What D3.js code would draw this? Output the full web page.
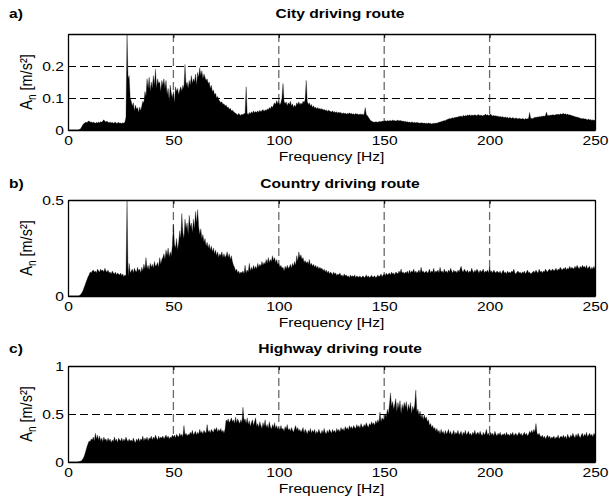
<!DOCTYPE html>
<html><head><meta charset="utf-8">
<script src="https://cdn.jsdelivr.net/npm/d3@7"></script>
<style>
body{margin:0;background:#fff}
svg{display:block}
text{font-family:"Liberation Sans",Arial,Helvetica,sans-serif;fill:#000}
</style>
</head><body>
<svg id="chart" width="609" height="503"></svg>
<script>
// frequency bins (Hz), 0.5 Hz apart
const freqHz = d3.range(0, 250.5, 0.5);

// City driving route, amplitude [m/s²], 0..250 Hz (10 values = 5 Hz per row)
const cityValues = [
0,0,0,0,0,0,0,0,0,0,
0,0.002,0.004,0.01,0.016,0.02,0.022,0.025,0.023,0.027,
0.028,0.024,0.026,0.022,0.025,0.023,0.021,0.024,0.022,0.025,
0.023,0.026,0.024,0.028,0.032,0.027,0.025,0.028,0.024,0.023,
0.025,0.022,0.024,0.021,0.023,0.025,0.02,0.022,0.024,0.021,
0.022,0.02,0.023,0.021,0.025,0.04,0.3,0.16,0.17,0.1,
0.09,0.075,0.085,0.06,0.078,0.065,0.07,0.055,0.072,0.06,
0.075,0.09,0.085,0.12,0.105,0.16,0.13,0.165,0.12,0.15,
0.13,0.17,0.14,0.19,0.13,0.16,0.145,0.15,0.12,0.155,
0.14,0.16,0.13,0.155,0.11,0.13,0.09,0.14,0.115,0.1,
0.12,0.085,0.135,0.12,0.13,0.11,0.125,0.135,0.12,0.14,
0.13,0.205,0.14,0.15,0.13,0.155,0.14,0.17,0.145,0.16,
0.15,0.175,0.14,0.18,0.165,0.195,0.17,0.185,0.16,0.175,
0.165,0.155,0.16,0.145,0.15,0.13,0.14,0.12,0.125,0.11,
0.115,0.1,0.105,0.095,0.09,0.085,0.088,0.08,0.082,0.075,
0.078,0.07,0.072,0.065,0.068,0.06,0.062,0.058,0.055,0.052,
0.05,0.046,0.052,0.048,0.045,0.05,0.047,0.052,0.05,0.135,
0.052,0.048,0.055,0.05,0.057,0.052,0.06,0.054,0.058,0.055,
0.06,0.055,0.062,0.057,0.06,0.064,0.058,0.063,0.06,0.066,
0.063,0.07,0.066,0.074,0.07,0.078,0.085,0.08,0.092,0.082,
0.09,0.078,0.085,0.1,0.145,0.09,0.082,0.088,0.076,0.085,
0.08,0.09,0.075,0.082,0.07,0.078,0.072,0.085,0.08,0.088,
0.078,0.084,0.08,0.09,0.085,0.095,0.155,0.09,0.08,0.085,
0.075,0.08,0.07,0.076,0.068,0.072,0.066,0.07,0.065,0.068,
0.064,0.067,0.062,0.065,0.06,0.063,0.058,0.062,0.06,0.058,
0.056,0.06,0.055,0.058,0.054,0.057,0.052,0.056,0.053,0.055,
0.05,0.054,0.051,0.053,0.049,0.052,0.05,0.054,0.05,0.052,
0.049,0.051,0.048,0.052,0.049,0.05,0.047,0.051,0.048,0.05,
0.047,0.05,0.07,0.048,0.045,0.04,0.035,0.03,0.028,0.026,
0.025,0.024,0.026,0.025,0.024,0.026,0.027,0.025,0.028,0.027,
0.028,0.029,0.027,0.03,0.028,0.029,0.03,0.028,0.031,0.029,
0.03,0.028,0.029,0.031,0.028,0.03,0.029,0.027,0.028,0.026,
0.027,0.025,0.026,0.024,0.025,0.023,0.025,0.024,0.023,0.024,
0.022,0.024,0.023,0.022,0.021,0.023,0.022,0.021,0.022,0.02,
0.021,0.02,0.022,0.02,0.021,0.019,0.02,0.021,0.02,0.022,
0.021,0.023,0.024,0.025,0.026,0.027,0.028,0.03,0.029,0.032,
0.033,0.034,0.036,0.035,0.037,0.038,0.037,0.04,0.039,0.041,
0.04,0.043,0.042,0.044,0.041,0.046,0.043,0.045,0.044,0.047,
0.045,0.048,0.044,0.047,0.046,0.045,0.048,0.046,0.044,0.049,
0.046,0.045,0.047,0.044,0.046,0.045,0.05,0.046,0.048,0.045,
0.047,0.05,0.045,0.044,0.046,0.043,0.045,0.042,0.044,0.041,
0.043,0.04,0.042,0.04,0.039,0.041,0.038,0.04,0.037,0.039,
0.038,0.036,0.039,0.037,0.035,0.038,0.036,0.034,0.037,0.035,
0.034,0.036,0.035,0.033,0.036,0.034,0.035,0.037,0.055,0.036,
0.037,0.035,0.038,0.04,0.039,0.041,0.04,0.042,0.041,0.043,
0.042,0.044,0.043,0.045,0.056,0.044,0.046,0.045,0.047,0.046,
0.048,0.047,0.046,0.049,0.048,0.05,0.047,0.051,0.049,0.05,
0.052,0.049,0.051,0.048,0.05,0.047,0.048,0.046,0.045,0.044,
0.043,0.042,0.04,0.041,0.039,0.038,0.037,0.036,0.035,0.036,
0.034,0.035,0.033,0.032,0.034,0.031,0.033,0.03,0.032,0.03,
0.031];

// Country driving route
const countryValues = [
0,0,0,0,0,0,0,0,0,0,
0,0.003,0.008,0.015,0.025,0.04,0.055,0.07,0.085,0.1,
0.11,0.125,0.12,0.13,0.135,0.125,0.13,0.12,0.14,0.13,
0.125,0.14,0.13,0.135,0.125,0.145,0.13,0.125,0.135,0.12,
0.125,0.115,0.13,0.12,0.115,0.125,0.11,0.12,0.115,0.11,
0.12,0.105,0.115,0.1,0.11,0.105,0.5,0.1,0.17,0.12,
0.13,0.14,0.12,0.145,0.13,0.125,0.15,0.13,0.14,0.12,
0.15,0.13,0.165,0.14,0.2,0.14,0.16,0.135,0.17,0.15,
0.165,0.145,0.18,0.155,0.16,0.175,0.15,0.2,0.165,0.19,
0.2,0.22,0.19,0.24,0.21,0.25,0.2,0.23,0.21,0.26,
0.37,0.27,0.25,0.3,0.24,0.28,0.34,0.3,0.43,0.33,
0.3,0.4,0.35,0.38,0.32,0.42,0.36,0.38,0.33,0.4,
0.35,0.44,0.38,0.45,0.36,0.32,0.35,0.3,0.32,0.28,
0.3,0.26,0.28,0.25,0.27,0.24,0.26,0.23,0.25,0.22,
0.24,0.21,0.23,0.2,0.22,0.21,0.23,0.2,0.22,0.2,
0.21,0.23,0.2,0.22,0.19,0.21,0.18,0.16,0.15,0.13,
0.14,0.12,0.13,0.115,0.125,0.12,0.13,0.115,0.16,0.12,
0.135,0.125,0.17,0.13,0.15,0.135,0.16,0.14,0.155,0.14,
0.17,0.15,0.165,0.155,0.18,0.16,0.175,0.165,0.19,0.17,
0.2,0.175,0.19,0.18,0.21,0.185,0.2,0.175,0.19,0.165,
0.17,0.15,0.16,0.145,0.15,0.13,0.155,0.14,0.16,0.145,
0.15,0.165,0.145,0.17,0.155,0.18,0.16,0.21,0.18,0.23,
0.2,0.215,0.19,0.2,0.175,0.185,0.17,0.18,0.165,0.19,
0.16,0.17,0.155,0.165,0.15,0.16,0.145,0.155,0.14,0.15,
0.14,0.145,0.13,0.14,0.125,0.135,0.12,0.13,0.115,0.125,
0.12,0.11,0.125,0.115,0.12,0.105,0.115,0.11,0.12,0.105,
0.11,0.1,0.115,0.105,0.11,0.1,0.105,0.095,0.11,0.1,
0.105,0.1,0.11,0.095,0.105,0.1,0.098,0.105,0.095,0.1,
0.105,0.095,0.1,0.11,0.098,0.105,0.095,0.1,0.108,0.098,
0.1,0.105,0.095,0.1,0.11,0.1,0.105,0.115,0.1,0.11,
0.115,0.105,0.12,0.11,0.115,0.12,0.11,0.125,0.115,0.12,
0.11,0.125,0.12,0.115,0.13,0.12,0.14,0.12,0.125,0.115,
0.125,0.12,0.13,0.115,0.135,0.12,0.13,0.125,0.14,0.12,
0.13,0.12,0.125,0.135,0.12,0.15,0.125,0.13,0.12,0.125,
0.13,0.12,0.125,0.14,0.12,0.13,0.125,0.145,0.12,0.13,
0.125,0.135,0.12,0.15,0.125,0.13,0.12,0.14,0.125,0.13,
0.12,0.135,0.125,0.145,0.13,0.12,0.135,0.125,0.13,0.12,
0.135,0.125,0.14,0.155,0.13,0.125,0.14,0.13,0.125,0.135,
0.12,0.13,0.125,0.145,0.13,0.12,0.135,0.125,0.14,0.13,
0.12,0.135,0.125,0.13,0.14,0.12,0.13,0.125,0.135,0.12,
0.15,0.125,0.13,0.12,0.135,0.125,0.12,0.13,0.125,0.12,
0.13,0.115,0.125,0.135,0.12,0.125,0.115,0.13,0.12,0.125,
0.12,0.13,0.125,0.14,0.12,0.115,0.125,0.13,0.12,0.125,
0.115,0.125,0.12,0.13,0.115,0.125,0.135,0.12,0.125,0.115,
0.12,0.125,0.13,0.12,0.135,0.125,0.12,0.14,0.125,0.13,
0.12,0.13,0.125,0.14,0.13,0.125,0.135,0.14,0.13,0.135,
0.14,0.13,0.135,0.145,0.13,0.14,0.135,0.15,0.14,0.135,
0.145,0.14,0.15,0.135,0.145,0.14,0.155,0.14,0.15,0.145,
0.14,0.155,0.145,0.16,0.15,0.14,0.155,0.145,0.16,0.15,
0.155,0.145,0.16,0.14,0.15,0.155,0.135,0.15,0.14,0.155,
0.14];

// Highway driving route
const highwayValues = [
0,0,0,0,0,0,0,0,0,0,
0.002,0.004,0.008,0.015,0.03,0.05,0.08,0.12,0.16,0.19,
0.22,0.21,0.24,0.23,0.26,0.22,0.3,0.24,0.28,0.23,
0.27,0.22,0.25,0.21,0.26,0.23,0.24,0.21,0.25,0.22,
0.24,0.2,0.23,0.21,0.26,0.22,0.24,0.2,0.25,0.23,
0.22,0.25,0.21,0.24,0.22,0.26,0.23,0.21,0.24,0.22,
0.23,0.21,0.25,0.22,0.2,0.24,0.22,0.25,0.21,0.24,
0.23,0.27,0.22,0.25,0.23,0.26,0.22,0.25,0.24,0.27,
0.23,0.26,0.24,0.28,0.25,0.23,0.27,0.24,0.26,0.25,
0.27,0.24,0.26,0.28,0.25,0.27,0.24,0.26,0.25,0.28,
0.26,0.28,0.25,0.29,0.27,0.26,0.3,0.27,0.29,0.26,
0.38,0.28,0.3,0.27,0.29,0.28,0.31,0.29,0.33,0.28,
0.3,0.32,0.28,0.31,0.29,0.34,0.3,0.32,0.29,0.33,
0.31,0.3,0.39,0.31,0.33,0.3,0.34,0.32,0.31,0.35,
0.33,0.36,0.31,0.34,0.32,0.35,0.31,0.33,0.3,0.34,
0.44,0.42,0.45,0.41,0.43,0.46,0.42,0.44,0.4,0.47,
0.41,0.45,0.42,0.4,0.44,0.41,0.57,0.43,0.45,0.4,
0.46,0.39,0.43,0.37,0.41,0.44,0.38,0.42,0.46,0.37,
0.4,0.36,0.42,0.38,0.35,0.41,0.37,0.44,0.36,0.39,
0.35,0.42,0.37,0.34,0.39,0.36,0.41,0.35,0.38,0.34,
0.36,0.33,0.38,0.34,0.35,0.32,0.37,0.34,0.39,0.33,
0.35,0.32,0.36,0.33,0.31,0.35,0.38,0.33,0.36,0.32,
0.34,0.31,0.33,0.36,0.3,0.34,0.32,0.29,0.33,0.31,
0.35,0.3,0.33,0.31,0.34,0.29,0.32,0.3,0.34,0.31,
0.29,0.33,0.3,0.35,0.31,0.29,0.33,0.3,0.34,0.32,
0.3,0.34,0.31,0.33,0.3,0.35,0.32,0.34,0.31,0.36,
0.33,0.35,0.32,0.37,0.34,0.36,0.33,0.38,0.35,0.37,
0.34,0.38,0.36,0.35,0.39,0.36,0.38,0.35,0.4,0.37,
0.36,0.39,0.37,0.41,0.38,0.36,0.4,0.38,0.42,0.39,
0.41,0.38,0.43,0.4,0.44,0.41,0.52,0.42,0.46,0.44,
0.45,0.5,0.47,0.55,0.5,0.6,0.72,0.58,0.63,0.55,
0.6,0.66,0.52,0.62,0.56,0.64,0.5,0.6,0.55,0.62,
0.57,0.63,0.52,0.6,0.55,0.62,0.5,0.58,0.54,0.6,
0.75,0.52,0.55,0.48,0.53,0.46,0.5,0.44,0.49,0.45,
0.47,0.42,0.44,0.38,0.4,0.36,0.38,0.34,0.36,0.32,
0.35,0.31,0.33,0.29,0.34,0.3,0.32,0.28,0.33,0.29,
0.31,0.34,0.29,0.32,0.28,0.3,0.33,0.28,0.31,0.29,
0.33,0.28,0.3,0.32,0.27,0.31,0.29,0.33,0.28,0.3,
0.32,0.28,0.3,0.27,0.31,0.29,0.33,0.28,0.3,0.31,
0.28,0.32,0.29,0.27,0.31,0.28,0.3,0.34,0.28,0.3,
0.27,0.31,0.28,0.3,0.27,0.32,0.29,0.27,0.3,0.28,
0.31,0.27,0.29,0.28,0.3,0.27,0.31,0.28,0.29,0.27,
0.3,0.28,0.31,0.27,0.29,0.3,0.27,0.29,0.31,0.28,
0.3,0.27,0.29,0.31,0.28,0.3,0.27,0.29,0.32,0.3,
0.33,0.3,0.34,0.31,0.4,0.3,0.28,0.3,0.27,0.26,
0.28,0.25,0.27,0.24,0.26,0.28,0.25,0.27,0.24,0.26,
0.25,0.27,0.24,0.26,0.25,0.28,0.24,0.26,0.27,0.25,
0.28,0.25,0.27,0.24,0.29,0.26,0.25,0.28,0.26,0.3,
0.27,0.25,0.29,0.26,0.3,0.27,0.25,0.28,0.3,0.26,
0.29,0.27,0.31,0.26,0.28,0.3,0.27,0.29,0.26,0.3,
0.28];

const panelLabels = ["a)", "b)", "c)"];
const panelTitles = ["City driving route", "Country driving route", "Highway driving route"];
const xTickValues = [0, 50, 100, 150, 200, 250];
const xLabel = "Frequency [Hz]";
const cityYTicks = [0, 0.1, 0.2];
const countryYTicks = [0, 0.5];
const highwayYTicks = [0, 0.5, 1];
const yMaxima = [0.3, 0.5, 1];

const panels = [
  {label: panelLabels[0], title: panelTitles[0], values: cityValues, yTicks: cityYTicks, yMax: yMaxima[0], top: 34, titleY: 18},
  {label: panelLabels[1], title: panelTitles[1], values: countryValues, yTicks: countryYTicks, yMax: yMaxima[1], top: 200, titleY: 188},
  {label: panelLabels[2], title: panelTitles[2], values: highwayValues, yTicks: highwayYTicks, yMax: yMaxima[2], top: 366, titleY: 353}
];

const SX = 1.2;            // horizontal stretch of the lettering
const FS = 13;             // font size
const left = 68, right = 595, plotH = 96;
const svg = d3.select("#chart");

const x = d3.scaleLinear().domain([0, 250]).range([left, right]);

panels.forEach((p, i) => {
  const y = d3.scaleLinear().domain([0, p.yMax]).range([p.top + plotH, p.top]);
  const g = svg.append("g");

  const clipId = "clip" + i;
  svg.append("clipPath").attr("id", clipId)
    .append("rect").attr("x", left).attr("y", p.top).attr("width", right - left).attr("height", plotH);

  // grid
  const grid = g.append("g");
  grid.selectAll("line.v").data(xTickValues.filter(t => t > 0 && t < 250)).join("line")
    .attr("x1", d => x(d)).attr("x2", d => x(d))
    .attr("y1", p.top).attr("y2", p.top + plotH)
    .attr("stroke", "#6a6a6a").attr("stroke-width", 1.3).attr("stroke-dasharray", "8,4");
  grid.selectAll("line.h").data(p.yTicks.filter(t => t > 0 && t < p.yMax)).join("line")
    .attr("x1", left).attr("x2", right)
    .attr("y1", d => Math.round(y(d)) + 0.5).attr("y2", d => Math.round(y(d)) + 0.5)
    .attr("stroke", "#000").attr("stroke-width", 1).attr("stroke-dasharray", "8,4");

  // spectrum
  const data = freqHz.map((f, k) => ({f, v: p.values[k]}));
  const area = d3.area()
    .x(d => x(d.f))
    .y0(y(0))
    .y1(d => y(Math.min(d.v, p.yMax)));
  g.append("path").datum(data)
    .attr("clip-path", `url(#${clipId})`)
    .attr("d", area)
    .attr("fill", "#000").attr("stroke", "#000").attr("stroke-width", 0.3);

  // axes (inward ticks, box)
  const axB = g.append("g").attr("transform", `translate(0,${p.top + plotH})`)
    .call(d3.axisBottom(x).tickValues(xTickValues).tickSizeInner(-4).tickSizeOuter(0).tickPadding(5).tickFormat(d3.format("d")));
  const axT = g.append("g").attr("transform", `translate(0,${p.top})`)
    .call(d3.axisTop(x).tickValues(xTickValues).tickSizeInner(-4).tickSizeOuter(0).tickFormat(""));
  const axL = g.append("g").attr("transform", `translate(${left},0)`)
    .call(d3.axisLeft(y).tickValues(p.yTicks).tickSizeInner(-4).tickSizeOuter(0).tickPadding(4).tickFormat(d => String(d)));
  const axR = g.append("g").attr("transform", `translate(${right},0)`)
    .call(d3.axisRight(y).tickValues(p.yTicks).tickSizeInner(-4).tickSizeOuter(0).tickFormat(""));
  [axB, axT, axL, axR].forEach(a => {
    a.select(".domain").attr("stroke", "#000").attr("stroke-width", 1.3);
    a.selectAll(".tick line").attr("stroke", "#000").attr("stroke-width", 1);
  });
  axB.selectAll(".tick text").attr("font-size", FS).attr("font-family", null)
    .attr("transform", `scale(${SX},1)`).attr("y", 6);
  axL.selectAll(".tick text").attr("font-size", FS).attr("font-family", null)
    .attr("x", -4 / SX).attr("transform", `scale(${SX},1)`);

  // x label
  g.append("text").attr("text-anchor", "middle").attr("font-size", FS)
    .attr("transform", `translate(${(left + right) / 2},${p.top + plotH + 31}) scale(${SX},1)`)
    .text(xLabel);

  // y label A_n [m/s²]
  const yl = g.append("text").attr("text-anchor", "middle").attr("font-size", 14.5)
    .attr("transform", `translate(32,${p.top + plotH / 2}) scale(${SX},1) rotate(-90)`);
  yl.append("tspan").text("A");
  yl.append("tspan").attr("font-size", 10).attr("dy", 3).text("n");
  yl.append("tspan").attr("dy", -3).text(" [m/s²]");

  // title and panel letter
  g.append("text").attr("text-anchor", "middle").attr("font-size", FS).attr("font-weight", "bold")
    .attr("transform", `translate(340,${p.titleY}) scale(${SX},1)`)
    .text(p.title);
  g.append("text").attr("text-anchor", "start").attr("font-size", FS).attr("font-weight", "bold")
    .attr("transform", `translate(9,${p.titleY}) scale(${SX},1)`)
    .text(p.label);
});
</script>
</body></html>
